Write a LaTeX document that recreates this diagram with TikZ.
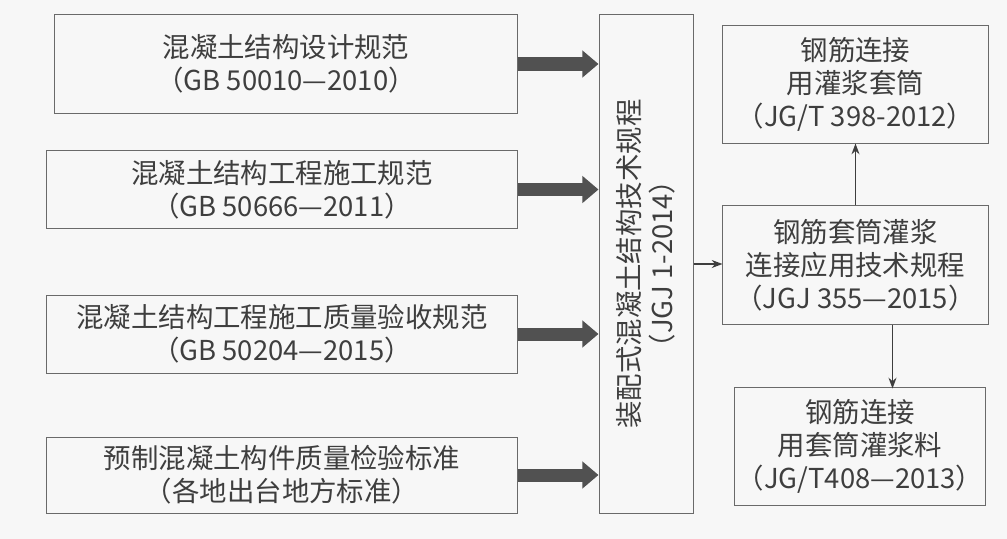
\documentclass[tikz,border=0pt]{standalone}
\usepackage{fontspec}
\newfontfamily\cjk{Noto Sans CJK SC}
\usetikzlibrary{arrows.meta}
\definecolor{bg}{HTML}{F7F7F7}
\definecolor{ink}{HTML}{3E3E3E}
\definecolor{frame}{HTML}{6A6A6A}
\tikzset{
  box/.style={draw=frame,line width=0.7pt,inner sep=0pt,align=center,text=ink,
    font=\cjk\fontsize{19.5}{23.5}\selectfont},
  fat/.style={draw=ink!90,line width=0.325cm,-{Triangle[width=0.65cm,length=0.4cm]}},
  thin/.style={draw=ink,line width=0.85pt,-{Stealth[width=0.2cm,length=0.27cm]}}
}
\begin{document}
\begin{tikzpicture}[x=0.025cm,y=0.025cm]
\fill[bg] (0,0) rectangle (1007,-539);
\useasboundingbox (0,0) rectangle (1007,-539);

\node[box,minimum width=11.55cm,minimum height=2.45cm] (b1) at (286,-64)
  {混凝土结构设计规范\\（GB 50010—2010）};
\node[box,minimum width=11.75cm,minimum height=1.925cm] (b2) at (282,-189.5)
  {混凝土结构工程施工规范\\（GB 50666—2011）};
\node[box,minimum width=11.75cm,minimum height=1.95cm] (b3) at (282,-334)
  {混凝土结构工程施工质量验收规范\\（GB 50204—2015）};
\node[box,minimum width=11.75cm,minimum height=1.9cm] (b4) at (282,-475)
  {预制混凝土构件质量检验标准\\（各地出台地方标准）};

\node[box,minimum width=2.35cm,minimum height=12.45cm] (mid) at (646,-264) {};
\node[box,draw=none,rotate=90] (midtext) at (mid.center)
  {装配式混凝土结构技术规程\\（JGJ 1-2014）};

\node[box,minimum width=6.625cm,minimum height=2.925cm] (r1) at (855.5,-84.5)
  {钢筋连接\\用灌浆套筒\\（JG/T 398-2012）};
\node[box,minimum width=6.625cm,minimum height=2.95cm] (r2) at (855.5,-265)
  {钢筋套筒灌浆\\连接应用技术规程\\（JGJ 355—2015）};
\node[box,minimum width=6.25cm,minimum height=2.925cm] (r3) at (860,-446.5)
  {钢筋连接\\用套筒灌浆料\\（JG/T408—2013）};

\foreach \b in {b1,b2,b3,b4}
  \draw[fat] (\b.east) -- (\b.east -| mid.west);

\draw[thin] (mid.east) -- (mid.east -| r2.west);
\draw[thin] (r2.north) -- (r1.south);
\draw[thin] (r2.south) ++(37,0) -- ++(0,-64);
\end{tikzpicture}
\end{document}
